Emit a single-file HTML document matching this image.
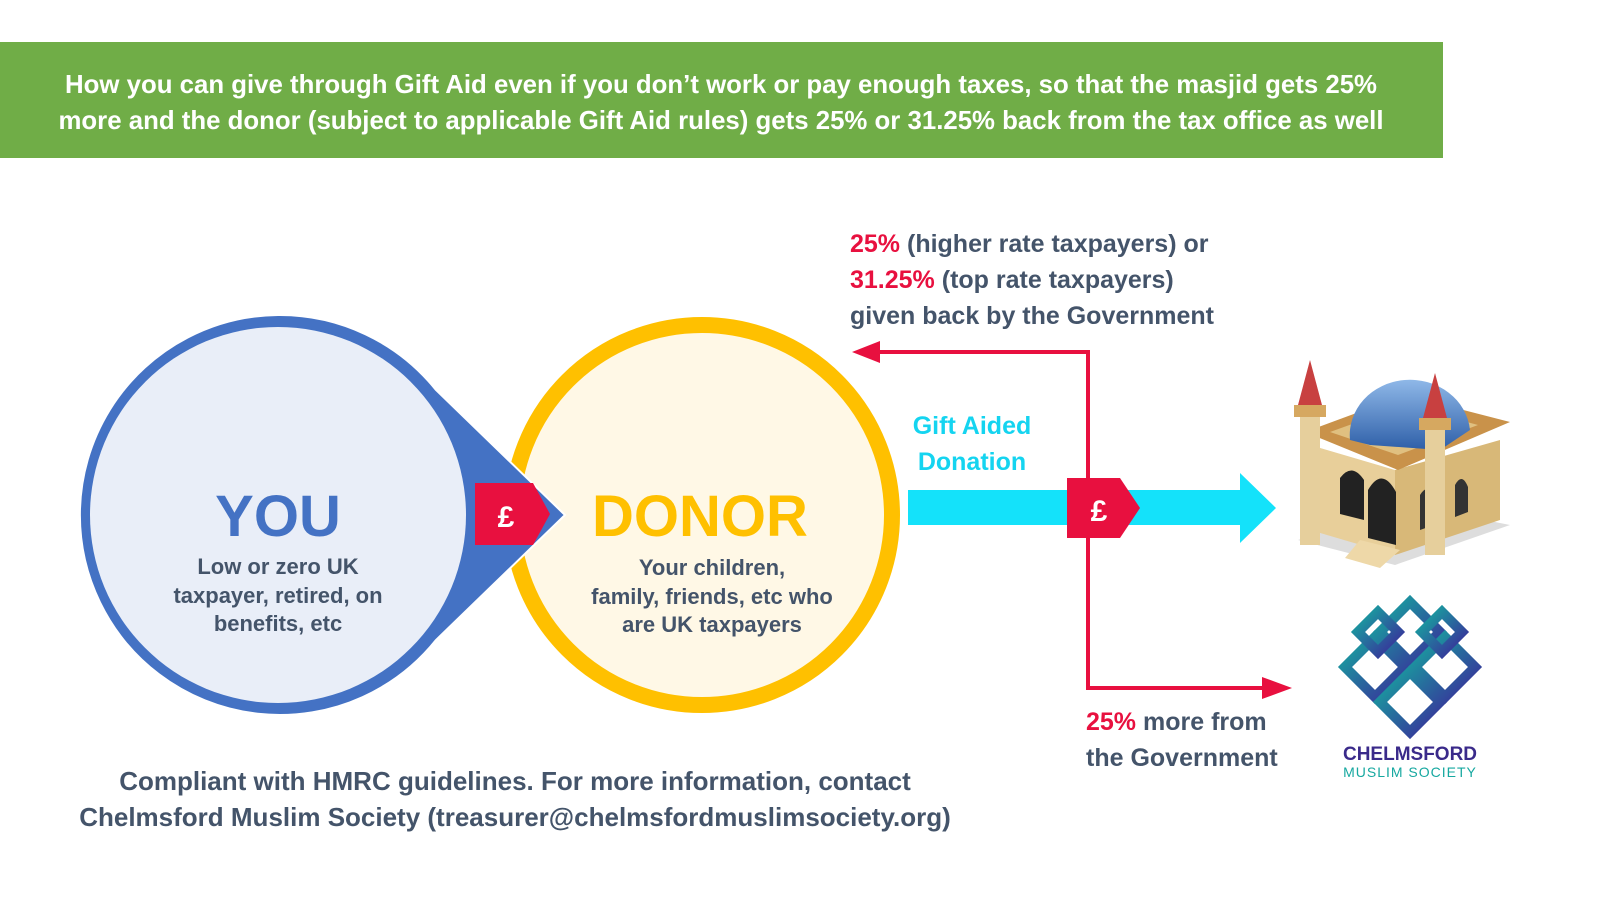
<!DOCTYPE html>
<html><head><meta charset="utf-8"><style>
html,body{margin:0;padding:0;background:#fff;}
body{width:1600px;height:900px;overflow:hidden;position:relative;font-family:"Liberation Sans",sans-serif;font-weight:bold;}
</style></head><body>
<svg width="1600" height="900" viewBox="0 0 1600 900" xmlns="http://www.w3.org/2000/svg" style="position:absolute;left:0;top:0">
<defs>
<linearGradient id="lg" x1="0" y1="0" x2="1" y2="1"><stop offset="0" stop-color="#16a8a0"/><stop offset="1" stop-color="#3a2a9a"/></linearGradient>
<linearGradient id="dome" x1="0" y1="0" x2="0" y2="1"><stop offset="0" stop-color="#8fb8e8"/><stop offset="1" stop-color="#2e5fa8"/></linearGradient>
</defs>
<rect x="0" y="42" width="1443" height="116" fill="#70ad47"/>
<g fill="#fff" font-size="25.8" text-anchor="middle">
<text x="721" y="93">How you can give through Gift Aid even if you don’t work or pay enough taxes, so that the masjid gets 25%</text>
<text x="721" y="129">more and the donor (subject to applicable Gift Aid rules) gets 25% or 31.25% back from the tax office as well</text>
</g>
<circle cx="702" cy="515" r="190" fill="#fff8e6" stroke="#ffc000" stroke-width="16"/>
<path d="M278 315 A200 200 0 1 0 436 640 L565 515 L436 390 A200 200 0 0 0 278 315Z" fill="#4472c4" stroke="#fff" stroke-width="2"/>
<circle cx="278" cy="515" r="188" fill="#e9eef8"/>
<path d="M475 483 L533 483 L550 514 L533 545 L475 545Z" fill="#e8103f"/>
<text x="506" y="527" fill="#fff" font-size="30" text-anchor="middle">£</text>
<text x="278" y="536" fill="#4472c4" font-size="58" text-anchor="middle">YOU</text>
<g fill="#44546a" font-size="22" text-anchor="middle">
<text x="278" y="574">Low or zero UK</text><text x="278" y="603">taxpayer, retired, on</text><text x="278" y="631">benefits, etc</text>
<text x="712" y="575">Your children,</text><text x="712" y="604">family, friends, etc who</text><text x="712" y="632">are UK taxpayers</text>
</g>
<text x="700" y="536" fill="#ffc000" font-size="58" text-anchor="middle">DONOR</text>
<path d="M908 490 L1240 490 L1240 473 L1276 508 L1240 543 L1240 525 L908 525Z" fill="#14e2fa"/>
<g stroke="#e8103f" stroke-width="4" fill="none">
<path d="M875 352 L1088 352 L1088 688 L1265 688"/>
</g>
<path d="M852 352 L880 341 L880 363Z" fill="#e8103f"/>
<path d="M1292 688 L1262 677 L1262 699Z" fill="#e8103f"/>
<path d="M1067 478 L1120 478 L1140 508 L1120 538 L1067 538Z" fill="#e8103f"/>
<text x="1099" y="521" fill="#fff" font-size="30" text-anchor="middle">£</text>
<g font-size="25" fill="#44546a">
<text x="850" y="252"><tspan fill="#e8103f">25%</tspan> (higher rate taxpayers) or</text>
<text x="850" y="288"><tspan fill="#e8103f">31.25%</tspan> (top rate taxpayers)</text>
<text x="850" y="324">given back by the Government</text>
<text x="1086" y="730"><tspan fill="#e8103f">25%</tspan> more from</text>
<text x="1086" y="766">the Government</text>
</g>
<g font-size="25" fill="#14d4f0" text-anchor="middle">
<text x="972" y="434">Gift Aided</text><text x="972" y="470">Donation</text>
</g>
<g font-size="26" fill="#44546a" text-anchor="middle">
<text x="515" y="790">Compliant with HMRC guidelines. For more information, contact</text>
<text x="515" y="826">Chelmsford Muslim Society (treasurer@chelmsfordmuslimsociety.org)</text>
</g>
<!-- mosque -->
<g>
<path d="M1298 540 L1395 565 L1510 525 L1410 505Z" fill="#ddd"/>
<path d="M1310 445 L1395 470 L1395 555 L1310 530Z" fill="#e8cf9a"/>
<path d="M1395 470 L1500 440 L1500 520 L1395 555Z" fill="#d8b878"/>
<path d="M1305 432 L1405 395 L1510 422 L1398 470Z" fill="#c9924a"/>
<path d="M1330 432 L1405 405 L1478 425 L1398 455Z" fill="#e0c080"/>
<path d="M1350 440 A60 55 0 0 1 1470 430 L1440 450 L1370 445Z" fill="url(#dome)"/>
<path d="M1340 478 Q1352 462 1364 480 L1364 520 L1340 514Z" fill="#222"/>
<path d="M1368 490 Q1382 466 1396 492 L1396 545 L1368 538Z" fill="#222"/>
<path d="M1420 495 Q1428 482 1434 497 L1434 525 L1420 530Z" fill="#333"/>
<path d="M1455 485 Q1462 472 1468 487 L1468 512 L1455 517Z" fill="#333"/>
<path d="M1360 540 L1400 550 L1380 568 L1345 558Z" fill="#eed8a8"/>
<rect x="1300" y="410" width="20" height="135" fill="#e6cf9c"/>
<rect x="1294" y="405" width="32" height="12" fill="#d6a860"/>
<path d="M1310 360 L1298 405 L1322 405Z" fill="#c84040"/>
<rect x="1425" y="425" width="20" height="130" fill="#e6cf9c"/>
<rect x="1419" y="418" width="32" height="12" fill="#d6a860"/>
<path d="M1435 373 L1423 418 L1447 418Z" fill="#c84040"/>
<path d="M1420 360 A16 16 0 1 0 1440 390 A12 12 0 1 1 1420 360Z" fill="#3cb838"/>
</g>
<!-- logo -->
<g fill="none" stroke="url(#lg)" stroke-width="10">
<path d="M1410 602 L1440 632 L1410 662 L1380 632Z"/>
<path d="M1375 637 L1405 667 L1375 697 L1345 667Z"/>
<path d="M1445 637 L1475 667 L1445 697 L1415 667Z"/>
<path d="M1410 672 L1440 702 L1410 732 L1380 702Z"/>
<path d="M1378 612 L1398 632 L1378 652 L1358 632Z"/>
<path d="M1442 612 L1462 632 L1442 652 L1422 632Z"/>
</g>
<text x="1410" y="760" fill="#3a2a8a" font-size="19" text-anchor="middle">CHELMSFORD</text>
<text x="1410" y="777" fill="#16a8a0" font-size="14" font-weight="normal" text-anchor="middle" letter-spacing="1">MUSLIM SOCIETY</text>
</svg>
</body></html>
